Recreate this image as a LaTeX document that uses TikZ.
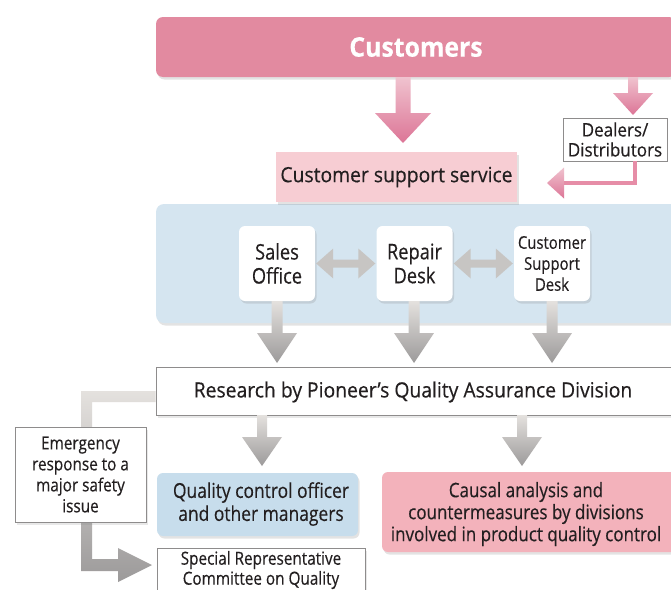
\documentclass[tikz,border=0pt]{standalone}
\usepackage{fontspec}
\setmainfont{Open Sans}[FakeStretch=0.92,FakeBold=0.35]
\newfontfamily\condf{Open Sans}[FakeStretch=0.85,FakeBold=0.35]
\usetikzlibrary{shadows,calc}
\definecolor{custpink}{HTML}{E28AA0}
\definecolor{csspink}{HTML}{F7CDD3}
\definecolor{panelblue}{HTML}{D5E5F0}
\definecolor{qblue}{HTML}{C7DDEC}
\definecolor{cpink}{HTML}{F3B2BB}
\definecolor{txt}{HTML}{231F20}
\definecolor{bord}{HTML}{8E8C8C}
\definecolor{pinkA}{HTML}{F0C3CF}
\definecolor{pinkB}{HTML}{DC7596}
\definecolor{grayA}{HTML}{E4E1DE}
\definecolor{grayB}{HTML}{9C9A9A}
\definecolor{pinkline}{HTML}{E68DA7}
\newcommand\dnarr[6]{\path[#6] let \p1=(#1),\p2=(#2) in (\x1-#3pt,\y1) -- (\x1+#3pt,\y1) -- (\x1+#3pt,\y2+#5pt) -- (\x1+#4pt,\y2+#5pt) -- (\x1,\y2) -- (\x1-#4pt,\y2+#5pt) -- (\x1-#3pt,\y2+#5pt) -- cycle;}
\newcommand\dblarr[6]{\path[#6] let \p1=(#1),\p2=(#2) in (\x1,\y1) -- (\x1+#5pt,\y1+#4pt) -- (\x1+#5pt,\y1+#3pt) -- (\x2-#5pt,\y1+#3pt) -- (\x2-#5pt,\y1+#4pt) -- (\x2,\y1) -- (\x2-#5pt,\y1-#4pt) -- (\x2-#5pt,\y1-#3pt) -- (\x1+#5pt,\y1-#3pt) -- (\x1+#5pt,\y1-#4pt) -- cycle;}
\tikzset{
  shad/.style={drop shadow={opacity=0.22,shadow xshift=1.5pt,shadow yshift=-2.5pt}},
  lshad/.style={drop shadow={opacity=0.18,shadow xshift=1.5pt,shadow yshift=-2.5pt}},
  custbar/.style={fill=custpink, rounded corners=7pt, shad, text=white, inner sep=0pt,
    font=\bfseries\fontsize{27}{30}\selectfont},
  cssbox/.style={fill=csspink, shad, text=txt, inner sep=0pt, font=\fontsize{21}{24}\selectfont},
  panel/.style={fill=panelblue, rounded corners=8pt, shad, inner sep=0pt},
  deskbox/.style={fill=white, rounded corners=6pt, shad, text=txt, inner sep=0pt, align=center,
    font=\condf\fontsize{21.5}{24}\selectfont},
  smalldesk/.style={deskbox, font=\condf\fontsize{17.5}{21}\selectfont},
  whitebox/.style={fill=white, draw=bord, line width=0.9pt, text=txt, inner sep=0pt, align=center},
  qbox/.style={fill=qblue, rounded corners=6pt, shad, inner sep=0pt},
  cbox/.style={fill=cpink, rounded corners=6pt, shad, inner sep=0pt},
  pinkarr/.style={top color=pinkA, bottom color=pinkB},
  grayarr/.style={top color=grayA, bottom color=grayB},
  hgray/.style={fill=grayA!60!grayB},
  plink/.style={draw=pinkline, line width=3.2pt},
  label/.style={text=txt, inner sep=0pt, align=center},
}
\begin{document}
\begin{tikzpicture}[x=1pt,y=-1pt]
\path[use as bounding box, clip] (0,0) rectangle (671,589);
\fill[white] (0,0) rectangle (671,589);

% top bar
\node[custbar, minimum width=520, minimum height=60] (cust) at (416,47) {Customers};

% panel
\node[panel, minimum width=530, minimum height=119] (panel) at (421,263.5) {};

% customer support service
\node[cssbox, minimum width=241, minimum height=50] (css) at (396.5,177) {Customer support service};

% dealers
\node[whitebox, minimum width=104, minimum height=43, font=\fontsize{18.5}{20}\selectfont] (deal) at (615,139.5) {Dealers/\\Distributors};

% desks
\node[deskbox, minimum width=76, minimum height=75] (sales) at (277,263.5) {Sales\\Office};
\node[deskbox, minimum width=76, minimum height=75] (repair) at (414.5,263.5) {Repair\\Desk};
\node[smalldesk, minimum width=76, minimum height=75] (csd) at (552,263.5) {Customer\\Support\\Desk};

% research
\node[whitebox, lshad, minimum width=524, minimum height=48] (res) at (418,391) {};
\node[label, font=\fontsize{21}{24}\selectfont] (restext) at (413,392) {Research by Pioneer’s Quality Assurance Division};

% left L connector
\coordinate (etip) at (152,565);
\path[top color=grayA, bottom color=grayB] let \p1=(res.west), \p2=(etip) in
  (\x1,\y1) -- (\x2-71pt,\y1) -- (\x2-71pt,\y2-6pt) -- (\x2-34pt,\y2-6pt) -- (\x2-34pt,\y2-17pt)
  -- (\x2,\y2) -- (\x2-34pt,\y2+17pt) -- (\x2-34pt,\y2+6pt) -- (\x2-60pt,\y2+6pt)
  -- (\x2-60pt,\y1-11pt) -- (\x1,\y1-11pt) -- cycle;

% emergency
\node[whitebox, lshad, minimum width=131, minimum height=95, font=\condf\fontsize{18}{21}\selectfont] (emer) at (80.5,474.5) {Emergency\\response to a\\major safety\\issue};

% quality / causal / special
\node[qbox, minimum width=201, minimum height=63] (qual) at (257.5,504.5) {};
\node[label, font=\condf\fontsize{20.5}{23}\selectfont] (qualtext) at (261,504) {Quality control officer\\and other managers};
\node[cbox, minimum width=300, minimum height=80] (caus) at (532,512) {};
\node[label, font=\condf\fontsize{20}{22}\selectfont] (caustext) at (526,514) {Causal analysis and\\countermeasures by divisions\\involved in product quality control};
\node[whitebox, lshad, minimum width=208, minimum height=56] (spec) at (261,576) {};
\node[label, font=\condf\fontsize{18}{20}\selectfont] (spectext) at (261,570) {Special Representative\\Committee on Quality};

% pink arrows from customers
\coordinate (c1s) at (403,77); \coordinate (c1e) at (403,143);
\dnarr{c1s}{c1e}{7.5}{28}{30}{pinkarr}
\coordinate (c2s) at (633,77); \coordinate (c2e) at (633,115);
\dnarr{c2s}{c2e}{5}{20}{22}{pinkarr}

% dealers to customer support service
\coordinate (dtip) at (547,183);
\draw[plink] ($(deal.south)+(20,0)$) |- ($(dtip)+(14,0)$);
\path[top color=pinkA, bottom color=pinkB] (dtip) -- ++(17,-15.5) -- ++(0,31) -- cycle;

% double arrows
\dblarr{$(sales.east)+(1,0)$}{$(repair.west)+(-1,0)$}{4}{15}{17}{hgray}
\dblarr{$(repair.east)+(1,0)$}{$(csd.west)+(-1,0)$}{4}{15}{17}{hgray}

% gray down arrows
\coordinate (g1s) at (277,301); \coordinate (g1e) at (277,363);
\coordinate (g2s) at (414,301); \coordinate (g2e) at (414,363);
\coordinate (g3s) at (552,301); \coordinate (g3e) at (552,363);
\dnarr{g1s}{g1e}{5.5}{20}{30}{grayarr}
\dnarr{g2s}{g2e}{5.5}{20}{30}{grayarr}
\dnarr{g3s}{g3e}{5.5}{20}{30}{grayarr}
\coordinate (g4s) at (262,415); \coordinate (g4e) at (262,466);
\coordinate (g5s) at (522,415); \coordinate (g5e) at (522,466);
\dnarr{g4s}{g4e}{5}{20}{29}{grayarr}
\dnarr{g5s}{g5e}{5}{20}{29}{grayarr}
\end{tikzpicture}
\end{document}
